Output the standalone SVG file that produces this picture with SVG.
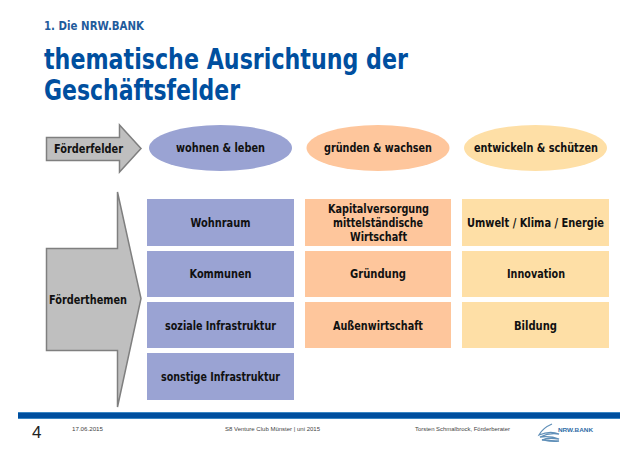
<svg xmlns="http://www.w3.org/2000/svg" width="638" height="451" viewBox="0 0 638 451">
<style>
text{font-family:"DejaVu Sans Condensed","DejaVu Sans","Liberation Sans",sans-serif}
.l{font-size:12px;font-weight:700;fill:#111;text-anchor:middle}
.t{font-size:27.500px;font-weight:700;fill:#004f9f}
.f{font-size:6px;fill:#444;font-family:"Liberation Sans",sans-serif}
.a{fill:#bfbfbf;stroke:#7f7f7f;stroke-width:1.5}
.b{fill:#9aa3d3}.o{fill:#fec69c}.y{fill:#fedfa6}
</style>
<rect width="638" height="451" fill="#fff"/>
<g id="header">
<text x="44" y="30" font-size="11.500" font-weight="700" fill="#1f5b9c" textLength="100" lengthAdjust="spacingAndGlyphs">1. Die NRW.BANK</text>
<text class="t" x="44" y="69" textLength="364" lengthAdjust="spacingAndGlyphs">thematische Ausrichtung der</text>
<text class="t" x="44" y="100" textLength="196" lengthAdjust="spacingAndGlyphs">Geschäftsfelder</text>
</g>
<g id="foerderfelder"><path class="a" d="M46.500 137.500H119.500V125L141 148.500 119.500 172V160.500H46.500Z"/><text class="l" x="88.500" y="153" textLength="69" lengthAdjust="spacingAndGlyphs">Förderfelder</text></g>
<g id="foerderthemen"><path class="a" d="M46.500 248.500H117.500V192L141 298.500 117.500 407V350.500H46.500Z"/><text class="l" x="88" y="304" textLength="78" lengthAdjust="spacingAndGlyphs">Förderthemen</text></g>
<g id="e1"><ellipse class="b" cx="220.500" cy="148" rx="71.500" ry="23"/><text class="l" x="220.500" y="152" textLength="89" lengthAdjust="spacingAndGlyphs">wohnen &amp; leben</text></g>
<g id="e2"><ellipse class="o" cx="378" cy="148" rx="71.500" ry="23"/><text class="l" x="378" y="152" textLength="108" lengthAdjust="spacingAndGlyphs">gründen &amp; wachsen</text></g>
<g id="e3"><ellipse class="y" cx="535.500" cy="148" rx="71.500" ry="23"/><text class="l" x="536" y="152" textLength="124" lengthAdjust="spacingAndGlyphs">entwickeln &amp; schützen</text></g>
<g id="r11"><rect class="b" x="147" y="199" width="147" height="47"/><text class="l" x="220.500" y="227" textLength="60" lengthAdjust="spacingAndGlyphs">Wohnraum</text></g>
<g id="r12"><rect class="b" x="147" y="251" width="147" height="46"/><text class="l" x="220.500" y="278" textLength="62" lengthAdjust="spacingAndGlyphs">Kommunen</text></g>
<g id="r13"><rect class="b" x="147" y="302" width="147" height="46"/><text class="l" x="220.500" y="330" textLength="111" lengthAdjust="spacingAndGlyphs">soziale Infrastruktur</text></g>
<g id="r14"><rect class="b" x="147" y="353" width="147" height="47"/><text class="l" x="220.500" y="381" textLength="119" lengthAdjust="spacingAndGlyphs">sonstige Infrastruktur</text></g>
<g id="r21"><rect class="o" x="305" y="199" width="146" height="47"/><text class="l" x="378.500" y="213" textLength="101" lengthAdjust="spacingAndGlyphs">Kapitalversorgung</text><text class="l" x="378" y="227" textLength="90" lengthAdjust="spacingAndGlyphs">mittelständische</text><text class="l" x="378.500" y="241" textLength="57" lengthAdjust="spacingAndGlyphs">Wirtschaft</text></g>
<g id="r22"><rect class="o" x="305" y="251" width="146" height="46"/><text class="l" x="378" y="278" textLength="56" lengthAdjust="spacingAndGlyphs">Gründung</text></g>
<g id="r23"><rect class="o" x="305" y="302" width="146" height="46"/><text class="l" x="378" y="330" textLength="90" lengthAdjust="spacingAndGlyphs">Außenwirtschaft</text></g>
<g id="r31"><rect class="y" x="462" y="199" width="147" height="47"/><text class="l" x="535.500" y="227" textLength="137" lengthAdjust="spacingAndGlyphs">Umwelt / Klima / Energie</text></g>
<g id="r32"><rect class="y" x="462" y="251" width="147" height="46"/><text class="l" x="536" y="278" textLength="58" lengthAdjust="spacingAndGlyphs">Innovation</text></g>
<g id="r33"><rect class="y" x="462" y="302" width="147" height="46"/><text class="l" x="535.500" y="330" textLength="43" lengthAdjust="spacingAndGlyphs">Bildung</text></g>
<g id="footer">
<rect x="18" y="412" width="602" height="7" fill="#004f9f"/>
<rect x="18" y="412" width="602" height="1" fill="#3a86c4"/>
<rect x="18" y="418" width="602" height="1" fill="#3a86c4"/>
<text x="32" y="438" font-size="17" fill="#222" style="font-family:'Liberation Sans',sans-serif">4</text>
<text class="f" x="72" y="431" textLength="31" lengthAdjust="spacingAndGlyphs">17.06.2015</text>
<text class="f" x="225" y="431" textLength="95" lengthAdjust="spacingAndGlyphs">S8 Venture Club Münster | uni 2015</text>
<text class="f" x="415" y="431" textLength="95" lengthAdjust="spacingAndGlyphs">Torsten Schmalbrock, Förderberater</text>
<path d="M552 424C545 427 541 431 539 435C546 432 554 432 559 434C553 433 546 434 540 437C547 436 554 437 559 439C553 438 546 438 542 440C548 440 554 441 559 441C553 442 548 441 544 440" fill="none" stroke="#5f8fb8" stroke-width="1.300"/>
<text x="558" y="432" font-size="6" font-weight="700" fill="#2f6ca6" textLength="35" lengthAdjust="spacingAndGlyphs" style="font-family:'Liberation Sans',sans-serif">NRW.BANK</text>
</g>
</svg>
